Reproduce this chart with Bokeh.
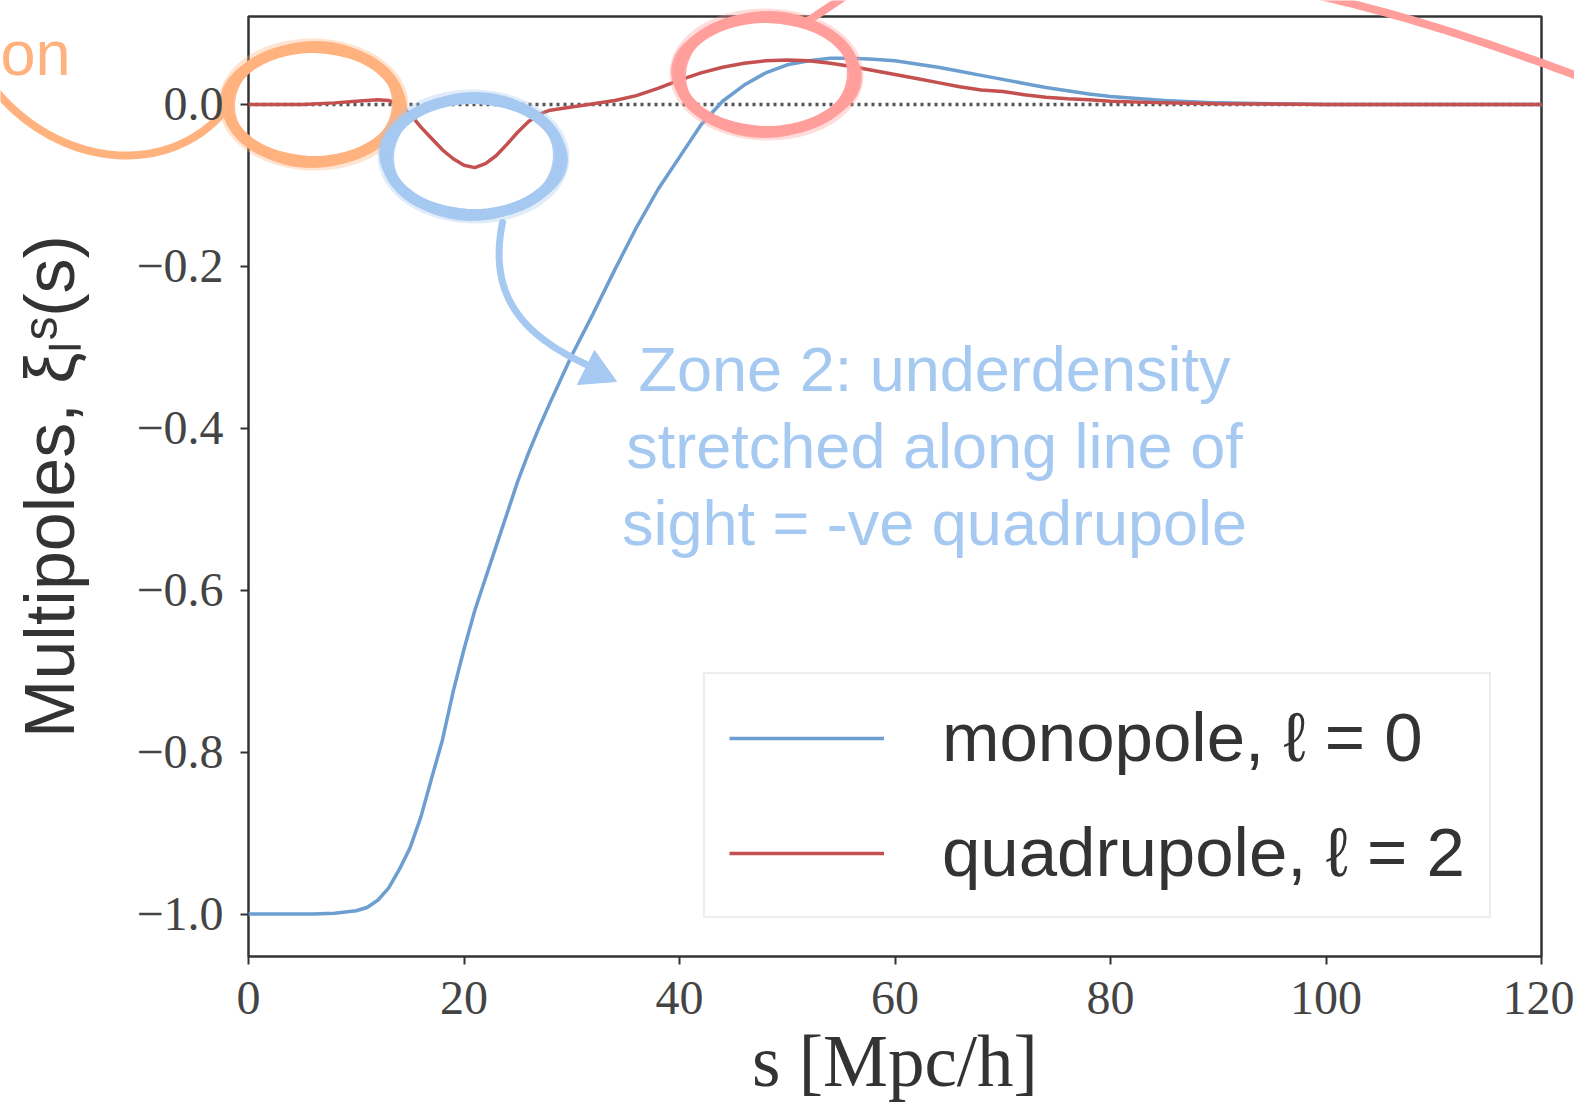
import numpy as np
from bokeh.plotting import figure
from bokeh.models import (Range1d, FixedTicker, CustomJSTickFormatter, Legend, LegendItem, Label)
from bokeh.embed import file_html
from bokeh.resources import INLINE

# ---------------- data ----------------
s_mono = [0, 2, 4, 6, 8, 10, 11, 12, 13, 14, 15, 16, 17, 18, 19, 20, 21, 22, 23, 24, 25, 26, 27, 28,
          30, 32, 34, 36, 38, 40, 42, 44, 46, 48, 50, 52, 54, 56, 58, 60, 62, 64, 66, 68, 70,
          72, 74, 76, 78, 80, 85, 90, 95, 100, 110, 120]
xi_mono = [-1.0, -1.0, -1.0, -1.0, -0.999, -0.996, -0.992, -0.983, -0.968, -0.945, -0.918, -0.88,
           -0.832, -0.785, -0.725, -0.673, -0.625, -0.585, -0.545, -0.505, -0.465, -0.43, -0.398,
           -0.368, -0.31, -0.258, -0.204, -0.152, -0.105, -0.065, -0.025, 0.004, 0.024, 0.039,
           0.049, 0.054, 0.057, 0.057, 0.056, 0.054, 0.050, 0.046, 0.041, 0.036, 0.031, 0.026,
           0.021, 0.017, 0.013, 0.010, 0.005, 0.002, 0.001, 0.0, 0.0, 0.0]

s_quad = [0, 5, 8, 10, 12, 13, 14, 15, 16, 17, 18, 19, 20, 21, 22, 23, 24, 25, 26, 27, 28, 30,
          32, 34, 36, 38, 40, 42, 44, 46, 48, 50, 52, 54, 56, 58, 60, 62, 64, 66, 68, 70, 72,
          74, 76, 78, 80, 85, 90, 100, 110, 120]
xi_quad = [0.0, 0.0, 0.002, 0.004, 0.006, 0.005, 0.0, -0.012, -0.028, -0.042, -0.056, -0.067,
           -0.075, -0.078, -0.073, -0.063, -0.049, -0.034, -0.021, -0.012, -0.007, -0.003,
           0.001, 0.005, 0.011, 0.020, 0.030, 0.039, 0.046, 0.051, 0.054, 0.055, 0.054, 0.051,
           0.047, 0.042, 0.037, 0.032, 0.027, 0.022, 0.018, 0.016, 0.012, 0.009, 0.007, 0.006,
           0.004, 0.002, 0.001, 0.0, 0.0, 0.0]

x_ticks = [0, 20, 40, 60, 80, 100, 120]
y_ticks = [-1.0, -0.8, -0.6, -0.4, -0.2, 0.0]
legend_labels = ["monopole, \u2113 = 0", "quadrupole, \u2113 = 2"]
x_label = "s [Mpc/h]"
y_label = "Multipoles, \u03be\u2097\u02e2(s)"
zone_text = ["Zone 2: underdensity", "stretched along line of", "sight = -ve quadrupole"]
side_text = "on"

# ---------------- layout ----------------
W, H = 1574, 1104
FL, FR, FT, FB = 248, 1541, 16, 956          # pixel box of the axes (spines)
XR = (0.0, 120.0)
YR = (-1.0525, 0.1087)

BLUE = "#6c9ecf"
RED = "#c45050"
ORANGE = "#ffb17e"
LBLUE = "#a5c9f1"
PINK = "#ff9e9b"
AX = "#333333"


def px2x(px):
    return XR[0] + (px - FL) / (FR - FL) * (XR[1] - XR[0])


def py2y(py):
    return YR[1] - (py - FT) / (FB - FT) * (YR[1] - YR[0])


# the drawing area covers the whole page so the hand-drawn notes may leave the axes box
p = figure(width=W, height=H, output_backend="svg", toolbar_location=None,
           x_range=Range1d(px2x(0), px2x(W)), y_range=Range1d(py2y(H), py2y(0)),
           min_border=0, min_border_left=0, min_border_right=0,
           min_border_top=0, min_border_bottom=0,
           background_fill_color="white", border_fill_color="white")
p.outline_line_color = None
p.xgrid.visible = False
p.ygrid.visible = False

xa, ya = p.xaxis[0], p.yaxis[0]
xa.fixed_location = YR[0]
ya.fixed_location = XR[0]
xa.bounds = XR
ya.bounds = YR
for ax in (xa, ya):
    ax.axis_line_color = None
    ax.major_tick_line_color = AX
    ax.major_tick_line_width = 2
    ax.major_tick_in = 0
    ax.major_tick_out = 8
    ax.minor_tick_line_color = None
    ax.major_label_text_font = "Liberation Serif"
    ax.major_label_text_font_size = "48px"
    ax.major_label_text_color = "#444444"
    ax.axis_label_text_font_style = "normal"
    ax.axis_label_text_color = "#333333"

xa.ticker = FixedTicker(ticks=x_ticks)
ya.ticker = FixedTicker(ticks=y_ticks)
xa.formatter = CustomJSTickFormatter(code="return tick.toFixed(0);")
ya.formatter = CustomJSTickFormatter(
    code="return (tick < 0 ? '\\u2212' : '') + Math.abs(tick).toFixed(1);")
xa.major_label_standoff = 17
ya.major_label_standoff = 17

xa.axis_label = x_label
xa.axis_label_text_font = "Liberation Serif"
xa.axis_label_text_font_size = "73px"
xa.axis_label_standoff = 4
ya.axis_label = y_label
ya.axis_label_text_font = "Liberation Sans"
ya.axis_label_text_font_size = "70px"
ya.axis_label_standoff = 44

# axes box (spines)
p.quad(left=[XR[0]], right=[XR[1]], bottom=[YR[0]], top=[YR[1]],
       fill_color=None, line_color=AX, line_width=2.5)
# zero reference line
p.line(list(XR), [0, 0], line_color="#555555", line_width=3.5, line_dash="3 4")

r_mono = p.line(s_mono, xi_mono, line_color=BLUE, line_width=3.5)
r_quad = p.line(s_quad, xi_quad, line_color=RED, line_width=3.5)

legend = Legend(items=[LegendItem(label=legend_labels[0], renderers=[r_mono]),
                       LegendItem(label=legend_labels[1], renderers=[r_quad])],
                location=(703, H - 918), margin=0, padding=24, spacing=36,
                glyph_width=155, glyph_height=70, label_height=70, label_standoff=58,
                label_text_font="Liberation Sans", label_text_font_size="69px",
                label_text_color="#333333",
                border_line_color="#dcdcdc", border_line_width=2,
                background_fill_color="white", background_fill_alpha=0.85)
p.add_layout(legend)


# ---------------- hand-drawn annotations (pixel geometry -> data) ----------------
def ellipse_px(cx, cy, rx, ry, rot=0.0, n=90):
    t = np.linspace(0, 2 * np.pi, n + 1)
    c, s = np.cos(rot), np.sin(rot)
    x = rx * np.cos(t)
    y = ry * np.sin(t)
    return list(cx + c * x - s * y), list(cy + s * x + c * y)


def bezier_px(p0, p1, p2, p3, n=50):
    t = np.linspace(0, 1, n)
    pts = [np.array(q, dtype=float) for q in (p0, p1, p2, p3)]
    b = ((1 - t) ** 3)[:, None] * pts[0] + (3 * (1 - t) ** 2 * t)[:, None] * pts[1] \
        + (3 * (1 - t) * t ** 2)[:, None] * pts[2] + (t ** 3)[:, None] * pts[3]
    return list(b[:, 0]), list(b[:, 1])


def add_path(xs, ys, color, lw, alpha=1.0):
    p.line([px2x(v) for v in xs], [py2y(v) for v in ys], line_color=color,
           line_width=lw, line_alpha=alpha, line_join="round", line_cap="round")


def add_ring(cx, cy, rx, ry, color, rot=0.0):
    for drx, dry, drot, lw, a in ((0, 0, 0, 11, 1.0), (5, -3, 0.05, 5, 0.9),
                                  (-5, 4, -0.04, 5, 0.9), (2, 2, 0.02, 14, 0.35)):
        xs, ys = ellipse_px(cx, cy, rx + drx, ry + dry, rot + drot)
        add_path(xs, ys, color, lw, a)


# orange zone (left)
add_ring(313, 104, 86, 57, ORANGE)
ox, oy = bezier_px((-5, 90), (60, 168), (170, 178), (226, 108))
add_path(ox, oy, ORANGE, 8)
p.add_layout(Label(x=px2x(0), y=py2y(52), text=side_text, text_align="left",
                   text_baseline="alphabetic", text_font="Liberation Sans",
                   text_font_size="63px", text_color=ORANGE))

# blue zone with arrow + text
add_ring(473, 156, 87, 58, LBLUE)
bx, by = bezier_px((502, 222), (486, 300), (528, 338), (590, 366))
add_path(bx, by, LBLUE, 7)
head = [(577, 384), (594, 350), (616, 381)]
p.patch([px2x(a) for a, b in head], [py2y(b) for a, b in head],
        fill_color=LBLUE, line_color=LBLUE, line_width=1)
for i, line in enumerate(zone_text):
    p.add_layout(Label(x=px2x(934), y=py2y(368 + 77 * i), text=line, text_align="center",
                       text_baseline="alphabetic", text_font="Liberation Sans",
                       text_font_size="63px", text_color=LBLUE))

# pink zone (top)
add_ring(766, 74, 88, 57, PINK)
kx, ky = bezier_px((808, 20), (820, 12), (834, 3), (850, -8))
add_path(kx, ky, PINK, 8)
qx, qy = bezier_px((1295, -10), (1395, 12), (1472, 36), (1600, 84))
add_path(qx, qy, PINK, 8)

open("out.html", "w").write(file_html(p, INLINE))
